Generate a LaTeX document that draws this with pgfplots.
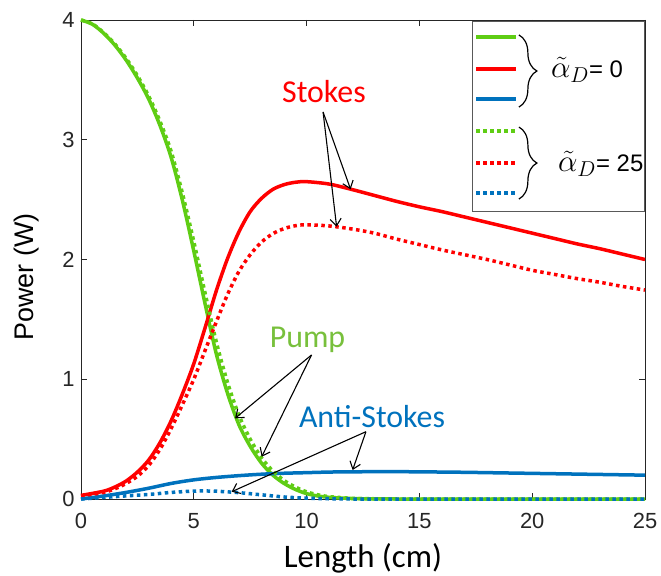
\documentclass[border=0pt]{standalone}
\usepackage{fontspec}
\setmainfont{Carlito}
\newfontfamily\arial{Liberation Sans}
\usepackage{pgfplots}
\pgfplotsset{compat=1.18}
\usetikzlibrary{arrows.meta,decorations.pathreplacing}
\definecolor{pgreen}{RGB}{95,205,20}
\definecolor{ptext}{RGB}{120,192,60}
\definecolor{sred}{RGB}{255,0,0}
\definecolor{ablue}{RGB}{0,114,189}
\definecolor{axgray}{RGB}{38,38,38}
\newcommand{\aD}{\scalebox{1.25}{$\tilde{\alpha}_D$}}
\begin{document}
\begin{tikzpicture}
\begin{axis}[
  width=564bp, height=479bp, scale only axis,
  xmin=0, xmax=25, ymin=0, ymax=4,
  xtick={0,5,10,15,20,25}, ytick={0,1,2,3,4},
  tick align=inside, major tick length=6bp,
  axis line style={axgray, line width=0.8bp},
  tick style={axgray, line width=0.8bp},
  ticklabel style={font=\arial\fontsize{22}{26}\selectfont, text=axgray},
  /pgf/number format/assume math mode=true,
  xticklabel style={yshift=-11bp},
  yticklabel style={xshift=-3bp},
  xlabel={Length (cm)},
  xlabel style={font=\fontsize{33}{36}\selectfont, at={(axis description cs:0.5,-0.1435)}, anchor=base},
  ylabel={Power (W)},
  ylabel style={font=\arial\fontsize{27}{30}\selectfont, at={(axis description cs:-0.0846,0.4635)}, anchor=base},
  clip=false,
]
\coordinate (SW) at (rel axis cs:0,0);
% solid (alpha_D = 0)
\addplot[pgreen, line width=3.5bp, smooth] coordinates {
(0,4.00) (0.5,3.965) (1,3.89) (1.5,3.79) (2,3.665) (2.5,3.515) (3,3.34) (3.5,3.12)
(4,2.85) (4.5,2.49) (5,2.07) (5.5,1.63) (6,1.21) (6.5,0.88) (7,0.62) (7.5,0.44)
(8,0.30) (8.5,0.20) (9,0.13) (9.5,0.08) (10,0.045) (10.5,0.025) (11,0.014)
(12,0.004) (13,0.001) (14,0) (17,0) (20,0) (25,0)};
\addplot[sred, line width=3.5bp, smooth] coordinates {
(0,0.03) (1,0.065) (1.5,0.10) (2,0.15) (2.5,0.225) (3,0.325) (3.5,0.47) (4,0.655)
(4.5,0.88) (5,1.13) (5.5,1.43) (6,1.74) (6.5,2.01) (7,2.23) (7.5,2.40) (8,2.51)
(8.5,2.585) (9,2.625) (9.5,2.645) (10,2.65) (11,2.63) (12,2.585) (13,2.535)
(14,2.485) (15,2.44) (16,2.40) (17,2.355) (18,2.31) (19,2.265) (20,2.22)
(21,2.175) (22,2.13) (23,2.09) (24,2.045) (25,2.0)};
\addplot[ablue, line width=3.5bp, smooth] coordinates {
(0,0.0) (1,0.025) (2,0.055) (3,0.09) (4,0.13) (5,0.16) (6,0.18) (7,0.195)
(8,0.207) (9,0.215) (10,0.22) (11,0.225) (12,0.227) (13,0.228) (14,0.228)
(15,0.227) (16,0.225) (17,0.223) (18,0.22) (19,0.217) (20,0.214) (21,0.211)
(22,0.208) (23,0.205) (24,0.202) (25,0.199)};
% dotted (alpha_D = 25)
\addplot[pgreen, line width=3.5bp, dash pattern=on 3.5bp off 3.5bp, smooth] coordinates {
(0,4.00) (0.5,3.968) (1,3.895) (1.5,3.80) (2,3.68) (2.5,3.535) (3,3.365) (3.5,3.155)
(4,2.90) (4.5,2.55) (5,2.15) (5.5,1.72) (6,1.31) (6.5,0.97) (7,0.70) (7.5,0.50)
(8,0.345) (8.5,0.235) (9,0.155) (9.5,0.10) (10,0.06) (10.5,0.035) (11,0.02)
(12,0.006) (13,0.002) (14,0) (17,0) (20,0) (25,0)};
\addplot[sred, line width=3.5bp, dash pattern=on 3.5bp off 3.5bp, smooth] coordinates {
(0,0.025) (1,0.055) (1.5,0.085) (2,0.13) (2.5,0.19) (3,0.28) (3.5,0.415) (4,0.59)
(4.5,0.79) (5,1.00) (5.5,1.24) (6,1.48) (6.5,1.71) (7,1.90) (7.5,2.04) (8,2.145)
(8.5,2.215) (9,2.258) (9.5,2.282) (10,2.29) (11,2.28) (12,2.255) (13,2.22)
(14,2.17) (15,2.125) (16,2.08) (17,2.04) (18,2.00) (19,1.955) (20,1.91)
(21,1.875) (22,1.84) (23,1.81) (24,1.775) (25,1.745)};
\addplot[ablue, line width=3.5bp, dash pattern=on 3.5bp off 3.5bp, smooth] coordinates {
(0,0.0) (1,0.013) (2,0.026) (3,0.038) (4,0.055) (5,0.066) (5.5,0.067) (6,0.065)
(7,0.053) (8,0.035) (9,0.017) (10,0.007) (11,0.002) (12,0) (15,0) (20,0) (25,0)};
% annotations
\node[font=\fontsize{32}{36}\selectfont, text=sred, anchor=base] at (axis cs:10.77,3.315) {Stokes};
\node[font=\fontsize{32}{36}\selectfont, text=ptext, anchor=base] at (axis cs:10.04,1.261) {Pump};
\node[font=\fontsize{32}{36}\selectfont, text=ablue, anchor=base] at (axis cs:12.9,0.593) {Anti-Stokes};
\begin{scope}[-{Straight Barb[length=7bp,width=11bp]}, line width=1.1bp, black]
\draw (axis cs:10.73,3.232) -- (axis cs:11.95,2.586);
\draw (axis cs:10.73,3.232) -- (axis cs:11.33,2.274);
\draw (axis cs:10.22,1.203) -- (axis cs:6.83,0.674);
\draw (axis cs:10.22,1.203) -- (axis cs:8.01,0.353);
\draw (axis cs:12.63,0.562) -- (axis cs:6.68,0.061);
\draw (axis cs:12.63,0.562) -- (axis cs:12.04,0.242);
\end{scope}
% legend
\draw[fill=white, draw=gray!70!black, line width=0.8bp] (axis cs:17.33,2.405) rectangle (axis cs:24.96,3.99);
\draw[pgreen, line width=3.5bp] (axis cs:17.51,3.858) -- (axis cs:19.28,3.858);
\draw[sred, line width=3.5bp] (axis cs:17.51,3.591) -- (axis cs:19.28,3.591);
\draw[ablue, line width=3.5bp] (axis cs:17.51,3.340) -- (axis cs:19.28,3.340);
\draw[pgreen, line width=3.5bp, dash pattern=on 3.5bp off 3.5bp] (axis cs:17.51,3.073) -- (axis cs:19.28,3.073);
\draw[sred, line width=3.5bp, dash pattern=on 3.5bp off 3.5bp] (axis cs:17.51,2.806) -- (axis cs:19.28,2.806);
\draw[ablue, line width=3.5bp, dash pattern=on 3.5bp off 3.5bp] (axis cs:17.51,2.555) -- (axis cs:19.28,2.555);
\draw[decorate, decoration={brace, amplitude=18bp}, line width=1.2bp] (axis cs:19.41,3.875) -- (axis cs:19.41,3.273);
\draw[decorate, decoration={brace, amplitude=18bp}, line width=1.2bp] (axis cs:19.41,3.106) -- (axis cs:19.41,2.505);
\node[anchor=base west, inner sep=0pt, font=\arial\fontsize{24}{28}\selectfont] at (axis cs:20.83,3.516) {\aD= 0};
\node[anchor=base west, inner sep=0pt, font=\arial\fontsize{24}{28}\selectfont] at (axis cs:21.14,2.733) {\aD= 25};
\end{axis}
\pgfresetboundingbox
\path[use as bounding box] ([shift={(-81bp,-77bp)}]SW) rectangle ([shift={(580bp,499bp)}]SW);
\end{tikzpicture}
\end{document}
